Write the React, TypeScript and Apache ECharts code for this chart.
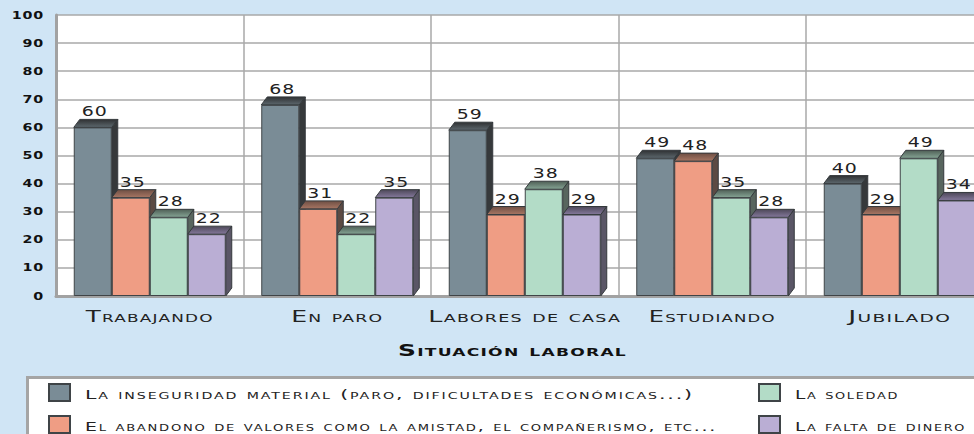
import React, { useEffect, useRef } from "react";
import * as echarts from "echarts";

const categories = ["Trabajando", "En paro", "Labores de casa", "Estudiando", "Jubilado"];
const seriesNames = [
  "La inseguridad material (paro, dificultades económicas...)",
  "El abandono de valores como la amistad, el compañerismo, etc...",
  "La soledad",
  "La falta de dinero",
];
const axisTitle = "Situación laboral";
const inseguridad = [60, 68, 59, 49, 40];
const abandono = [35, 31, 29, 48, 29];
const soledad = [28, 22, 38, 35, 49];
const faltaDinero = [22, 35, 29, 28, 34];
const yTicks = { min: 0, max: 100, interval: 10 };

const values = [inseguridad, abandono, soledad, faltaDinero];
const fronts = ["#7a8c96", "#ef9d84", "#b3dcc7", "#baaed4"];
const tops = [
  ["#2f3133", "#5d686e"],
  ["#6e4f44", "#a87663"],
  ["#4f5f56", "#86a595"],
  ["#4d4858", "#85799c"],
];
const sides = ["#36393b", "#5c4a43", "#58655e", "#5a5666"];
const BAR_W = 38;
const DEPTH_X = 6;
const DEPTH_Y = 8;
const FONT = '"DejaVu Sans"';
// the original face is an extended one: numbers get a stretch factor, words a drawn width
const stretch: Record<string, number> = { "14px": 1.35, "11px": 1.3 };
const textWidths: Record<string, number> = {
  Trabajando: 128,
  "En paro": 92,
  "Labores de casa": 193,
  Estudiando: 127,
  Jubilado: 103,
  [axisTitle]: 229,
  [seriesNames[0]]: 609,
  [seriesNames[1]]: 632,
  [seriesNames[2]]: 104,
  [seriesNames[3]]: 171,
};

const css = `
html,body{margin:0;padding:0;background:#d0e5f5}
#chart svg text{font-variant:small-caps !important}
#chart svg text[style*="16px"]{letter-spacing:0.8px}
#chart svg text[style*="13px"]{letter-spacing:1.2px}
#chart svg text[style*="14px"]{letter-spacing:0.8px;font-variant:normal !important}
#chart svg text[style*="11px"]{letter-spacing:0.6px}
`;

function extrusion(i: number) {
  return {
    type: "custom" as const,
    name: "depth" + i,
    z: 2 + i * 2,
    silent: true,
    data: values[i].map((v, idx) => [idx, v]),
    encode: { x: 0, y: 1 },
    renderItem: (_p: any, api: any) => {
      const top = api.coord([api.value(0), api.value(1)]);
      const base = api.coord([api.value(0), 0]);
      const x1 = top[0] - 2 * BAR_W + (i + 1) * BAR_W;
      const y1 = top[1];
      const y0 = base[1];
      const dark = "#34393c";
      return {
        type: "group",
        children: [
          {
            type: "polygon",
            shape: { points: [[x1, y1], [x1 + DEPTH_X, y1 - DEPTH_Y], [x1 + DEPTH_X, y0 - DEPTH_Y], [x1, y0]] },
            style: { fill: sides[i], stroke: dark, lineWidth: 1 },
          },
          {
            type: "polygon",
            shape: { points: [[x1 - BAR_W, y1], [x1 - BAR_W + DEPTH_X, y1 - DEPTH_Y], [x1 + DEPTH_X, y1 - DEPTH_Y], [x1, y1]] },
            style: {
              fill: new echarts.graphic.LinearGradient(0, 0, 0, 1, [
                { offset: 0, color: tops[i][0] },
                { offset: 1, color: tops[i][1] },
              ]),
              stroke: dark,
              lineWidth: 1,
            },
          },
        ],
      };
    },
  };
}

function stretchTexts(root: HTMLElement) {
  root.querySelectorAll("svg text").forEach((node) => {
    const t = node as SVGTextElement;
    const label = t.textContent || "";
    if (!label || t.hasAttribute("textLength")) return;
    const k = stretch[getComputedStyle(t).fontSize];
    const width = textWidths[label] ?? (k ? t.getComputedTextLength() * k : 0);
    if (!width) return;
    t.setAttribute("textLength", String(width));
    t.setAttribute("lengthAdjust", "spacingAndGlyphs");
    if (seriesNames.includes(label)) t.setAttribute("dy", "2");
  });
}

export default function App() {
  const ref = useRef<HTMLDivElement>(null);
  useEffect(() => {
    const chart = echarts.init(ref.current!, undefined, { renderer: "svg" });
    const gridLine = { color: "#a9a9a9", width: 1.5 };
    const legendBase = {
      orient: "vertical" as const,
      top: 383,
      padding: 0,
      height: 60,
      itemWidth: 21,
      itemHeight: 17,
      itemGap: 13,
      icon: "rect",
      textStyle: { fontFamily: FONT, fontSize: 13, color: "#222", padding: [8, 0, 0, 10] },
    };
    chart.setOption({
      animation: false,
      backgroundColor: "#d0e5f5",
      title: {
        text: axisTitle,
        left: 507.5,
        top: 337,
        textAlign: "center",
        textStyle: { fontFamily: FONT, fontSize: 16, fontWeight: "bold", color: "#111" },
      },
      grid: {
        left: 56,
        top: 15,
        width: 937.5,
        height: 281,
        outerBoundsMode: "none",
        show: true,
        backgroundColor: "#fff",
        borderWidth: 0,
      },
      xAxis: {
        type: "category",
        data: categories,
        axisTick: { show: false },
        axisLine: { lineStyle: { color: "#a2a2a2", width: 3 } },
        splitLine: { show: true, lineStyle: gridLine },
        axisLabel: { interval: 0, margin: 12, fontFamily: FONT, fontSize: 16, color: "#222" },
      },
      yAxis: {
        type: "value",
        ...yTicks,
        axisTick: { show: false },
        axisLine: { show: true, lineStyle: { color: "#a2a2a2", width: 3 } },
        splitLine: { show: true, lineStyle: gridLine },
        axisLabel: { margin: 12, fontFamily: FONT, fontSize: 11, fontWeight: "bold", color: "#111" },
      },
      legend: [
        { ...legendBase, data: [seriesNames[0], seriesNames[1]], left: 48 },
        { ...legendBase, data: [seriesNames[2], seriesNames[3]], left: 758 },
      ],
      graphic: [
        {
          type: "rect",
          z: 0,
          shape: { x: 27.5, y: 377.5, width: 970, height: 80 },
          style: { fill: "#fff", stroke: "#a5a5a5", lineWidth: 3 },
        },
      ],
      series: [
        ...values.flatMap((vals, i) => [
          extrusion(i),
          {
            type: "bar" as const,
            name: seriesNames[i],
            data: vals,
            z: 3 + i * 2,
            barWidth: BAR_W,
            barGap: 0,
            itemStyle: { color: fronts[i], borderColor: "#3f4447", borderWidth: 1 },
            label: {
              show: true,
              position: "top" as const,
              distance: 9,
              offset: [2, 0],
              fontFamily: FONT,
              fontSize: 14,
              color: "#222",
            },
          },
        ]),
      ],
    });
    stretchTexts(ref.current!);
    chart.on("finished", () => stretchTexts(ref.current!));
    return () => chart.dispose();
  }, []);
  return (
    <>
      <style>{css}</style>
      <div id="chart" ref={ref} style={{ width: 974, height: 434, overflow: "hidden" }} />
    </>
  );
}
